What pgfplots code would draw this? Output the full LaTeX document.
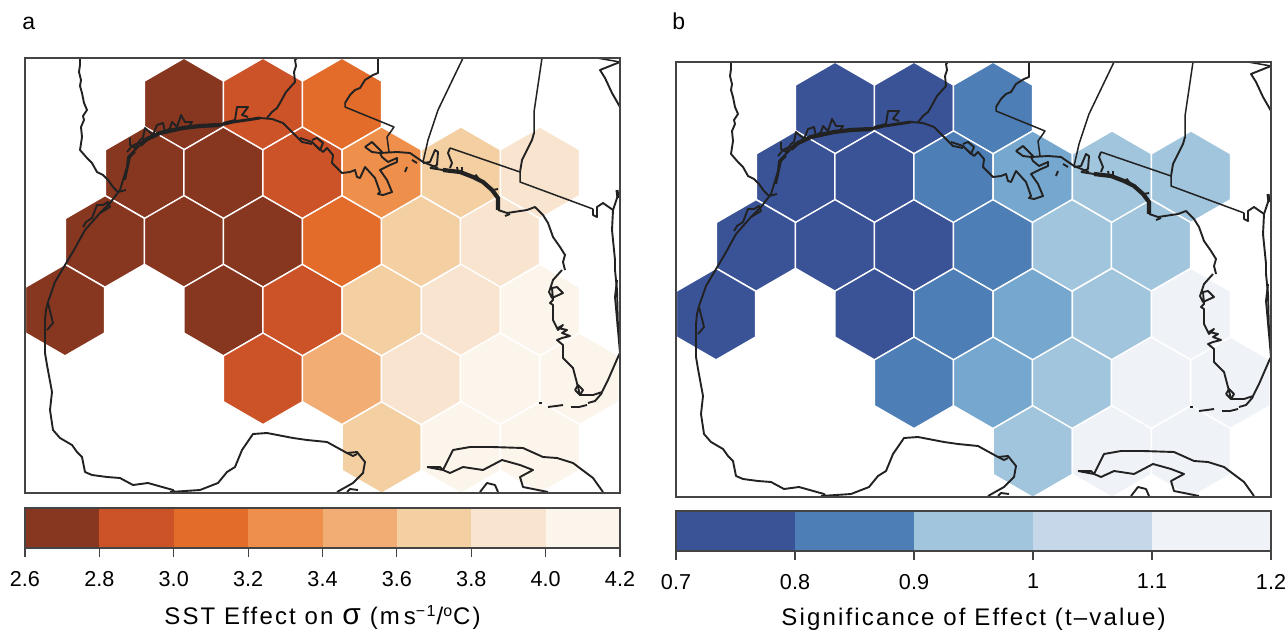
\documentclass[border=0pt]{standalone}
\usepackage{pgfplots}
\pgfplotsset{compat=1.18}
\usepackage{fontspec}
\setmainfont{Liberation Sans}
\newfontfamily\wide[LetterSpace=9]{Liberation Sans}
\definecolor{c1}{HTML}{873620}\definecolor{c2}{HTML}{CC5228}\definecolor{c3}{HTML}{E36C2B}\definecolor{c4}{HTML}{EF8F4C}
\definecolor{c5}{HTML}{F1AD73}\definecolor{c6}{HTML}{F4CFA2}\definecolor{c7}{HTML}{F9E5CF}\definecolor{c8}{HTML}{FCF5EB}
\definecolor{d1}{HTML}{3A5397}\definecolor{d2}{HTML}{4D7EB6}\definecolor{dm}{HTML}{76A8CF}\definecolor{d3}{HTML}{A1C5DC}
\definecolor{d4}{HTML}{C6D7E9}\definecolor{d5}{HTML}{EFF3F8}
\definecolor{coast}{HTML}{222222}\definecolor{frame}{HTML}{444444}
\pgfdeclareplotmark{hexa}{%
 \pgfpathmoveto{\pgfqpoint{0pt}{22.9pt}}\pgfpathlineto{\pgfqpoint{19.82pt}{11.45pt}}%
 \pgfpathlineto{\pgfqpoint{19.82pt}{-11.45pt}}\pgfpathlineto{\pgfqpoint{0pt}{-22.9pt}}%
 \pgfpathlineto{\pgfqpoint{-19.82pt}{-11.45pt}}\pgfpathlineto{\pgfqpoint{-19.82pt}{11.45pt}}%
 \pgfpathclose\pgfusepathqfillstroke}
\pgfplotsset{
 mapax/.style={scale only axis,width=297.5pt,height=217.5pt,xmin=25,xmax=620,ymin=58,ymax=493,y dir=reverse,
   xtick=\empty,ytick=\empty,axis line style={frame,line width=0.75pt},clip=true,clip mode=individual,axis on top},
 cbar/.style={scale only axis,width=297.5pt,height=20pt,ymin=0,ymax=1,ytick=\empty,tick align=outside,
   x axis line style={-},axis line style={frame,line width=0.75pt},xtick pos=bottom,
   major tick length=4.5pt,tick style={frame,line width=0.6pt},
   x tick label style={font=\fontsize{10.8}{12}\selectfont,yshift=-3.5pt},axis on top,
   every axis x label/.style={at={(axis description cs:0.5,0)},anchor=north,yshift=-25pt,font=\fontsize{12}{14}\selectfont}},
 hx/.style={only marks,mark=hexa,mark options={fill=#1,draw=white,line width=0.7pt}},
 sl/.style={coast,line width=0.75pt,line join=round},
 cl/.style={coast,line width=0.95pt,line join=round},
 cl2/.style={coast,line width=1.5pt,line join=round},
 cl3/.style={coast,line width=2.1pt,line join=round}
}
\newcommand{\coastlines}{%
% Rio Grande
\addplot[cl] coordinates {(80,58)(80,65)(79,72)(81,80)(80,86)(82,93)(84,103)(87,110)(83,116)(84,120)(81,127)(82,137)(80,150)(87,158)(92,163)(97,172)(103,175)(108,180)(113,187)(118,192)(122,191)(126,190)};
% Texas coast
\addplot[cl] coordinates {(45,353)(45,320)(46,310)(48,302)(55,282)(68,260)(74,250)(85,230)(100,213)(110,203)(120,190)(127,167)(128,157)(137,148)(145,140)};
\addplot[cl] coordinates {(125,180)(130,157)(135,152)};
\addplot[cl3] coordinates {(140,145)(147,139)(160,133)(183,128)(200,126)(220,125)};
\addplot[cl2] coordinates {(220,125)(233,122)(260,118)};
\addplot[cl] coordinates {(260,118)(272,119)(283,123)(288,128)(295,135)(302,142)(312,144)};
\addplot[cl] coordinates {(130,138)(130,145)(135,148)(140,140)(143,138)(145,128)(153,135)(157,125)(163,123)(165,132)(170,128)(172,122)(177,127)(181,115)(185,122)(192,122)(188,128)};
\addplot[cl] coordinates {(127,152)(132,146)(138,143)};
\addplot[cl] coordinates {(83,227)(86,222)(92,218)(97,205)(103,205)(108,202)(110,207)(100,213)};
\addplot[cl] coordinates {(223,123)(235,120)(237,107)(248,107)(242,115)(248,117)};
% Sabine
\addplot[cl] coordinates {(267,118)(272,112)(277,108)(280,103)(286,92)(295,82)(294,72)(296,66)(295,60)(297,58)};
% Louisiana coast
\addplot[cl] coordinates {(312,140)(317,138)(323,143)(320,150)(315,145)};
\addplot[cl] coordinates {(300,138)(312,142)(315,145)(323,152)(327,148)(333,155)(332,163)(342,173)(350,172)(355,170)(357,177)(360,178)(365,167)(375,178)(380,192)(378,194)(383,195)(392,192)(387,180)(380,170)(390,165)(397,162)(397,158)(388,162)(382,157)(380,153)(397,152)(410,153)(423,162)(438,168)};
\addplot[cl] coordinates {(365,147)(372,142)(382,152)(380,153)(372,152)(365,147)};
\addplot[cl] coordinates {(405,172)(407,167)};
\addplot[cl] coordinates {(412,160)(417,163)};
% state lines
\addplot[cl] coordinates {(378,58)(378,73)(373,75)(365,80)(360,88)(355,90)(350,95)(345,103)};
\addplot[sl] coordinates {(345,103)(345,107)(394,127)(387,137)(389,152)};
\addplot[sl] coordinates {(463,58)(438,110)(428,140)(423,162)};
\addplot[sl] coordinates {(542,58)(534,112)(534,133)};
\addplot[cl] coordinates {(534,133)(532,140)(522,160)(520,172)};
\addplot[sl] coordinates {(520,172)(520,182)(593,209)};
\addplot[cl] coordinates {(593,209)(593,215)(597,217)(597,207)(603,203)(613,210)};
\addplot[sl] coordinates {(450,148)(520,172)};
\addplot[cl] coordinates {(423,163)(430,162)(435,150)(438,152)(437,165)(430,168)};
\addplot[cl] coordinates {(450,148)(448,153)(452,163)(450,168)};
% panhandle coast
\addplot[cl] coordinates {(430,168)(443,170)};
\addplot[cl3] coordinates {(443,170)(460,172)(473,177)(483,182)(492,190)(498,198)(498,210)};
\addplot[cl] coordinates {(498,210)(507,213)(527,210)(535,207)(543,215)(548,223)(553,237)(560,247)(565,255)(563,262)(565,270)};
\addplot[cl] coordinates {(457,167)(458,172)};
\addplot[cl] coordinates {(462,167)(462,172)};
\addplot[cl2] coordinates {(475,175)(480,181)};
\addplot[cl] coordinates {(493,190)(498,189)};
\addplot[cl] coordinates {(505,216)(510,214)};
% peninsula
\addplot[cl] coordinates {(562,270)(553,280)(549,292)(552,298)(563,293)(557,287)(552,288)(553,300)(550,303)(553,305)(553,320)(558,330)(563,325)(558,328)(567,330)(562,333)(570,336)(562,338)(557,340)(563,345)(563,358)(573,368)(578,387)(580,395)(593,395)(602,392)(608,380)(618,357)(620,353)};
\addplot[cl] coordinates {(575,390)(578,385)(583,390)(580,395)(575,390)};
\addplot[cl] coordinates {(588,403)(595,401)(602,393)};
\addplot[cl] coordinates {(548,407)(556,406)(563,405)};
\addplot[cl] coordinates {(571,407)(579,407)(587,405)};
\addplot[cl2] coordinates {(540,402)(540,404)};
% Atlantic
\addplot[cl] coordinates {(618,195)(613,210)(612,230)(615,260)(615,270)(617,290)(618,330)(620,353)};
\addplot[cl] coordinates {(617,280)(615,297)(618,330)};
\addplot[cl2] coordinates {(617,190)(618,198)};
\addplot[sl] coordinates {(597,58)(620,62)};
\addplot[cl] coordinates {(620,62)(600,70)(605,78)(612,93)(620,107)};
% Mexico
\addplot[cl] coordinates {(48,303)(53,323)(47,330)};
\addplot[cl] coordinates {(45,353)(47,365)(52,392)(50,410)(53,430)(60,438)(72,445)(77,452)(82,457)(85,472)(92,475)(107,477)(120,478)(133,485)(148,483)(173,490)(175,493)};
\addplot[cl] coordinates {(170,492)(200,490)(218,483)(227,472)(235,467)(242,450)(253,434)(267,433)(293,438)(307,440)(327,442)(347,453)(357,452)(365,462)(363,473)(353,483)(337,492)};
\addplot[cl] coordinates {(347,453)(353,456)(357,454)};
\addplot[cl] coordinates {(347,492)(350,489)(358,490)};
% Cuba
\addplot[cl] coordinates {(427,467)(443,470)(448,460)(453,450)(470,447)(492,447)(523,448)(543,457)(557,458)(573,463)(585,472)(593,478)(603,492)};
\addplot[cl] coordinates {(427,467)(440,467)(443,470)(450,473)(463,467)(483,470)(502,460)(520,465)(533,470)(520,477)(523,487)(548,492)};
\addplot[cl] coordinates {(480,492)(487,483)(495,485)(498,492)};
}
\begin{document}
\begin{tikzpicture}[x=1pt,y=1pt]
\path[use as bounding box] (0,0) rectangle (644,315.5);
\node[anchor=base west,inner sep=0pt,font=\fontsize{11.5}{12}\selectfont] at (11,300.5) {a};
\node[anchor=base west,inner sep=0pt,font=\fontsize{11.5}{12}\selectfont] at (336,300.5) {b};
% ---------- map a
\begin{axis}[mapax,at={(12.5pt,69pt)},anchor=south west]
\addplot[hx=c1] table {
184 104
145 172.7
223.5 172.7
105 241.4
184 241.4
263 241.4
65 310.1
223.5 310.1
};
\addplot[hx=c2] table {
263 104
302.5 172.7
302.5 310.1
263 378.8
};
\addplot[hx=c3] table {
342 104
342 241.4
};
\addplot[hx=c4] table {
381.7 172.7
};
\addplot[hx=c5] table {
342 378.8
};
\addplot[hx=c6] table {
461 172.7
421 241.4
381.7 310.1
381.7 447.5
};
\addplot[hx=c7] table {
540 172.7
500 241.4
461 310.1
421 378.8
};
\addplot[hx=c8] table {
540 310.1
500 378.8
579.5 378.8
461 447.5
540 447.5
};
\coastlines
\end{axis}
% ---------- map b
\begin{axis}[mapax,at={(338pt,67pt)},anchor=south west]
\addplot[hx=d1] table {
184 104
263 104
145 172.7
223.5 172.7
105 241.4
184 241.4
263 241.4
65 310.1
223.5 310.1
};
\addplot[hx=d2] table {
342 104
302.5 172.7
342 241.4
302.5 310.1
263 378.8
};
\addplot[hx=dm] table {
381.7 172.7
381.7 310.1
342 378.8
};
\addplot[hx=d3] table {
461 172.7
540 172.7
421 241.4
500 241.4
461 310.1
421 378.8
381.7 447.5
};
\addplot[hx=d5] table {
540 310.1
500 378.8
579.5 378.8
461 447.5
540 447.5
};
\coastlines
\end{axis}
% ---------- colour bar a
\begin{axis}[cbar,at={(12.5pt,41.5pt)},anchor=south west,xmin=2.6,xmax=4.2,
  xtick={2.6,2.8,3.0,3.2,3.4,3.6,3.8,4.0,4.2},xticklabels={2.6,2.8,3.0,3.2,3.4,3.6,3.8,4.0,4.2},
  xlabel={\wide SST Effect on {\fontsize{15}{15}\selectfont σ} (m\,s\textsuperscript{−1}/\textsuperscript{o}C)}]
\addplot[fill=c1,draw=none] coordinates {(2.6,0)(2.8,0)(2.8,1)(2.6,1)} --cycle;
\addplot[fill=c2,draw=none] coordinates {(2.8,0)(3.0,0)(3.0,1)(2.8,1)} --cycle;
\addplot[fill=c3,draw=none] coordinates {(3.0,0)(3.2,0)(3.2,1)(3.0,1)} --cycle;
\addplot[fill=c4,draw=none] coordinates {(3.2,0)(3.4,0)(3.4,1)(3.2,1)} --cycle;
\addplot[fill=c5,draw=none] coordinates {(3.4,0)(3.6,0)(3.6,1)(3.4,1)} --cycle;
\addplot[fill=c6,draw=none] coordinates {(3.6,0)(3.8,0)(3.8,1)(3.6,1)} --cycle;
\addplot[fill=c7,draw=none] coordinates {(3.8,0)(4.0,0)(4.0,1)(3.8,1)} --cycle;
\addplot[fill=c8,draw=none] coordinates {(4.0,0)(4.2,0)(4.2,1)(4.0,1)} --cycle;
\end{axis}
% ---------- colour bar b
\begin{axis}[cbar,at={(338pt,40pt)},anchor=south west,xmin=0.7,xmax=1.2,
  xtick={0.7,0.8,0.9,1.0,1.1,1.2},xticklabels={0.7,0.8,0.9,1,1.1,1.2},
  xlabel={\wide Significance of Effect (t–value)}]
\addplot[fill=d1,draw=none] coordinates {(0.7,0)(0.8,0)(0.8,1)(0.7,1)} --cycle;
\addplot[fill=d2,draw=none] coordinates {(0.8,0)(0.9,0)(0.9,1)(0.8,1)} --cycle;
\addplot[fill=d3,draw=none] coordinates {(0.9,0)(1.0,0)(1.0,1)(0.9,1)} --cycle;
\addplot[fill=d4,draw=none] coordinates {(1.0,0)(1.1,0)(1.1,1)(1.0,1)} --cycle;
\addplot[fill=d5,draw=none] coordinates {(1.1,0)(1.2,0)(1.2,1)(1.1,1)} --cycle;
\end{axis}
\end{tikzpicture}
\end{document}
